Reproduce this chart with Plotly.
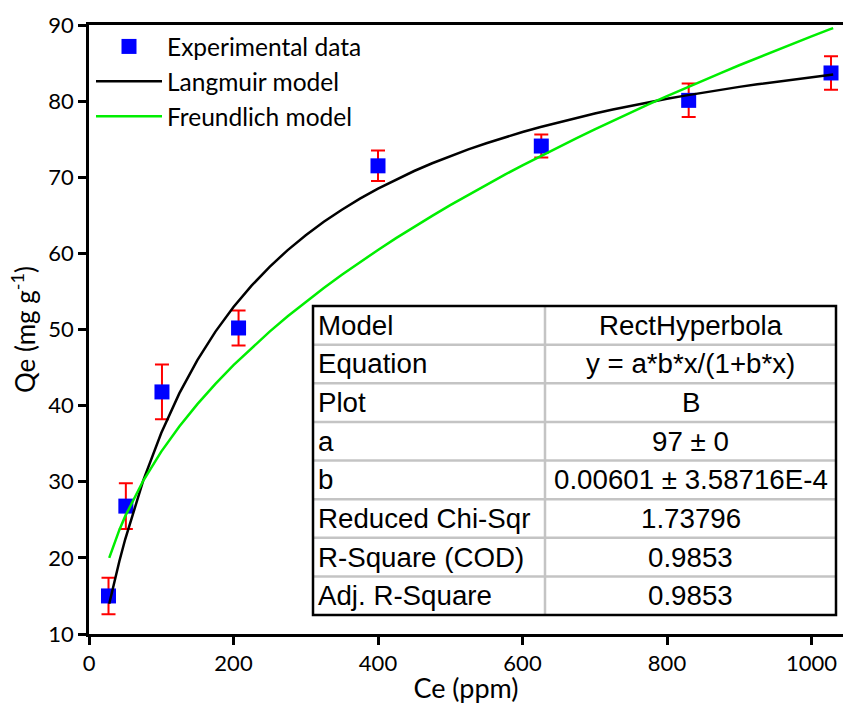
import plotly.graph_objects as go

# ---------------- data ----------------
ce_exp = [27, 51, 101, 207, 400, 626, 830, 1027]
qe_exp = [15.0, 26.8, 41.8, 50.2, 71.5, 74.1, 80.1, 83.7]
qe_err = [2.4, 3.0, 3.6, 2.3, 2.0, 1.5, 2.2, 2.2]

curve_x = [28, 35, 42, 50, 75, 100, 125, 150, 175, 200, 225, 250, 275, 300, 325, 350,
           375, 400, 425, 450, 475, 500, 525, 550, 575, 600, 625, 650, 675, 700, 725,
           750, 775, 800, 825, 850, 875, 900, 925, 950, 975, 1000, 1025, 1030]
langmuir_y = [13.97, 16.86, 19.55, 22.41, 30.14, 36.41, 41.61, 45.99, 49.72, 52.95,
              55.76, 58.24, 60.43, 62.39, 64.15, 65.74, 67.19, 68.50, 69.71, 70.82,
              71.84, 72.78, 73.66, 74.47, 75.23, 75.94, 76.61, 77.23, 77.82, 78.37,
              78.89, 79.39, 79.86, 80.30, 80.72, 81.12, 81.50, 81.87, 82.21, 82.54,
              82.86, 83.16, 83.45, 83.51]
freundlich_y = [20.00, 21.94, 23.67, 25.45, 30.13, 33.96, 37.26, 40.20, 42.86, 45.31,
                47.58, 49.72, 51.73, 53.63, 55.45, 57.19, 58.85, 60.45, 62.00, 63.49,
                64.93, 66.33, 67.69, 69.02, 70.31, 71.56, 72.79, 73.98, 75.15, 76.30,
                77.42, 78.52, 79.60, 80.66, 81.70, 82.72, 83.72, 84.71, 85.68, 86.64,
                87.58, 88.51, 89.42, 89.60]

table_labels = ["Model", "Equation", "Plot", "a", "b", "Reduced Chi-Sqr",
                "R-Square (COD)", "Adj. R-Square"]
table_values = ["RectHyperbola", "y = a*b*x/(1+b*x)", "B", "97 \u00b1 0",
                "0.00601 \u00b1 3.58716E-4", "1.73796", "0.9853", "0.9853"]

x_ticks = [0, 200, 400, 600, 800, 1000]
y_ticks = [10, 20, 30, 40, 50, 60, 70, 80, 90]

# ---------------- layout geometry ----------------
W, H = 843, 704
ML, MR, MT, MB = 89, 0, 25, 70
PW, PH = W - ML - MR, H - MT - MB

def px(xp):
    return (xp - ML) / PW

def py(yp):
    return (H - MB - yp) / PH

AX_FONT = "Lato, sans-serif"
TAB_FONT = "Liberation Sans, Arial, sans-serif"

fig = go.Figure()

fig.add_trace(go.Scatter(
    x=ce_exp, y=qe_exp, mode="markers", name="Experimental data",
    marker=dict(symbol="square", size=15, color="#0000ff"),
    error_y=dict(type="data", array=qe_err, color="#ff0000", thickness=2, width=7),
))
fig.add_trace(go.Scatter(
    x=curve_x, y=langmuir_y, mode="lines", name="Langmuir model",
    line=dict(color="#000000", width=2.5),
))
fig.add_trace(go.Scatter(
    x=curve_x, y=freundlich_y, mode="lines", name="Freundlich model",
    line=dict(color="#00ee00", width=2.5),
))

# ---------------- table ----------------
t_left, t_right, t_top, t_bot, t_div = 313, 836, 306, 615, 545
n = len(table_labels)
rh = (t_bot - t_top) / n
shapes = []
shapes.append(dict(type="rect", xref="paper", yref="paper",
                   x0=px(t_left), x1=px(t_right), y0=py(t_bot), y1=py(t_top),
                   fillcolor="white", line=dict(width=0), layer="below"))
for i in range(1, n):
    yy = t_top + rh * i
    shapes.append(dict(type="line", xref="paper", yref="paper",
                       x0=px(t_left), x1=px(t_right), y0=py(yy), y1=py(yy),
                       line=dict(color="#c4c4c4", width=2.5)))
shapes.append(dict(type="line", xref="paper", yref="paper",
                   x0=px(t_div), x1=px(t_div), y0=py(t_bot), y1=py(t_top),
                   line=dict(color="#c4c4c4", width=2.5)))
shapes.append(dict(type="rect", xref="paper", yref="paper",
                   x0=px(t_left), x1=px(t_right), y0=py(t_bot), y1=py(t_top),
                   line=dict(color="black", width=2.5)))

annotations = []
for i, (lab, val) in enumerate(zip(table_labels, table_values)):
    yc = t_top + rh * (i + 0.5)
    annotations.append(dict(xref="paper", yref="paper", x=px(t_left + 3), y=py(yc),
                            text=lab, showarrow=False, xanchor="left", yanchor="middle",
                            font=dict(family=TAB_FONT, size=27.7, color="black")))
    annotations.append(dict(xref="paper", yref="paper", x=px((t_div + t_right) / 2), y=py(yc),
                            text=val, showarrow=False, xanchor="center", yanchor="middle",
                            font=dict(family=TAB_FONT, size=27.7, color="black")))

fig.update_layout(
    width=W, height=H,
    margin=dict(l=ML, r=MR, t=MT, b=MB),
    plot_bgcolor="white", paper_bgcolor="white",
    shapes=shapes, annotations=annotations,
    showlegend=True,
    legend=dict(x=px(91), y=py(24), xanchor="left", yanchor="top",
                bgcolor="rgba(0,0,0,0)", itemwidth=66,
                font=dict(family="Lato, sans-serif", size=24.5, color="black"),
                tracegroupgap=0),
    xaxis=dict(range=[0, PW / 144.5 * 200], tickvals=x_ticks, ticks="outside",
               ticklen=8, tickwidth=2.5, tickcolor="black",
               showline=True, linecolor="black", linewidth=2.5, mirror=True,
               showgrid=False, zeroline=False,
               tickfont=dict(family=AX_FONT, size=22, color="black"),
               title=dict(text="Ce (ppm)", font=dict(family=AX_FONT, size=27, color="black"),
                          standoff=4)),
    yaxis=dict(range=[10, 90], tickvals=y_ticks, ticks="outside",
               ticklen=8, tickwidth=2.5, tickcolor="black",
               showline=True, linecolor="black", linewidth=2.5,
               showgrid=False, zeroline=False,
               tickfont=dict(family=AX_FONT, size=22, color="black"),
               title=dict(text="Qe (mg g<sup>-1</sup>)",
                          font=dict(family=AX_FONT, size=26, color="black"),
                          standoff=6)),
)

fig.write_html("out.html")
